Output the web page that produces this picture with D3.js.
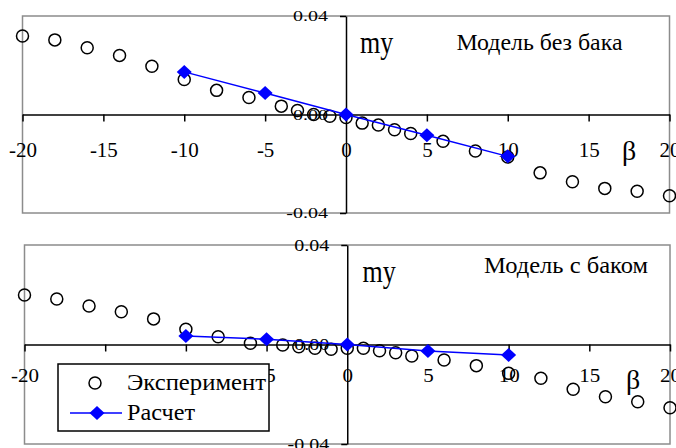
<!DOCTYPE html>
<html>
<head>
<meta charset="utf-8">
<script src="https://cdn.jsdelivr.net/npm/d3@7"></script>
<style>
  body { margin: 0; background: #fff; }
  svg { display: block; }
  text { font-family: "Liberation Serif", "Times New Roman", serif; fill: #000; }
</style>
</head>
<body>
<svg id="chart" width="676" height="448"></svg>
<script>
// angle of slip (deg) and measured / computed my
const betaExp = [-20, -18, -16, -14, -12, -10, -8, -6, -4, -3, -2, -1, 0, 1, 2, 3, 4, 6, 8, 10, 12, 14, 16, 18, 20];
const myExpNoTank = [0.0319, 0.0303, 0.0271, 0.0240, 0.0196, 0.0142, 0.0098, 0.0069, 0.0034, 0.0016, 0.0000, -0.0007, -0.0012,
  -0.0035, -0.0043, -0.0062, -0.0077, -0.0109, -0.0148, -0.0173, -0.0237, -0.0273, -0.0300, -0.0312, -0.0330];
const myExpTank = [0.0199, 0.0183, 0.0155, 0.0132, 0.0103, 0.0061, 0.0031, 0.0005, -0.0002, -0.0009, -0.0015, -0.0019, -0.0015,
  -0.0015, -0.0025, -0.0033, -0.0046, -0.0062, -0.0085, -0.0116, -0.0136, -0.0180, -0.0210, -0.0230, -0.0254];
const betaCalc = [-10, -5, 0, 5, 10];
const myCalcNoTank = [0.0173, 0.0087, 0, -0.0084, -0.0170];
const myCalcTank = [0.0034, 0.0021, 0, -0.0026, -0.0042];
const xTicks = [-20, -15, -10, -5, 0, 5, 10, 15, 20];
const yTicks = [-0.04, 0, 0.04];
const titles = ["Модель без бака", "Модель с баком"];
const legendLabels = ["Эксперимент", "Расчет"];

const svg = d3.select("#chart");
const diamond = "M0,-7 L7.5,0 L0,7 L-7.5,0Z";

function panel(opt) {
  const x = d3.scaleLinear().domain([-20, 20]).range([opt.left, opt.right]);
  const y = d3.scaleLinear().domain([-0.04, 0.04]).range([opt.bottom, opt.top]);
  const g = svg.append("g");

  g.append("rect")
    .attr("x", opt.left).attr("y", opt.top)
    .attr("width", opt.right - opt.left).attr("height", opt.bottom - opt.top)
    .attr("fill", "#fff").attr("stroke", "#8c8c8c").attr("stroke-width", 1.5);

  // x axis through zero
  const xa = g.append("g")
    .attr("transform", `translate(0,${y(0)})`)
    .call(d3.axisBottom(x).tickValues(xTicks).tickSize(7).tickSizeOuter(0).tickFormat(d => String(d)));
  xa.attr("font-family", null).attr("font-size", null);
  xa.selectAll("path, line").attr("stroke", "#000").attr("stroke-width", 1.5);
  xa.selectAll("text")
    .attr("y", null).attr("dy", null)
    .attr("font-size", 21)
    .attr("transform", `translate(0,${opt.xLabelBase}) scale(1,${opt.xLabelScale})`);

  // y axis through zero
  const ya = g.append("g")
    .attr("transform", `translate(${x(0)},0)`)
    .call(d3.axisLeft(y).tickValues(yTicks).tickSize(6).tickPadding(12).tickSizeOuter(0).tickFormat(d => d.toFixed(2)));
  ya.attr("font-family", null).attr("font-size", null);
  ya.selectAll("path, line").attr("stroke", "#000").attr("stroke-width", 1.5);
  ya.selectAll("text")
    .attr("font-size", 20)
    .attr("transform", `scale(1,${opt.yLabelScale})`);

  // experiment
  g.selectAll(".exp")
    .data(betaExp.map((b, i) => [b, opt.exp[i]]))
    .enter()
    .append("circle")
    .attr("class", "exp")
    .attr("cx", d => x(d[0]))
    .attr("cy", d => y(d[1]))
    .attr("r", 6)
    .attr("fill", "none")
    .attr("stroke", "#000")
    .attr("stroke-width", 1.5);

  // calculation
  const calc = betaCalc.map((b, i) => [b, opt.calc[i]]);
  g.append("path")
    .datum(calc)
    .attr("d", d3.line().x(d => x(d[0])).y(d => y(d[1])))
    .attr("fill", "none").attr("stroke", "#0000ff").attr("stroke-width", 1.5);
  g.selectAll(".calc")
    .data(calc)
    .enter()
    .append("path")
    .attr("class", "calc")
    .attr("d", diamond)
    .attr("transform", d => `translate(${x(d[0])},${y(d[1])})`)
    .attr("fill", "#0000ff");

  g.append("text")
    .attr("transform", `translate(${opt.myX},${opt.myY}) scale(1,1.25)`)
    .attr("font-size", 26)
    .text("my");
  g.append("text")
    .attr("x", opt.titleX).attr("y", opt.titleY)
    .attr("font-size", 23)
    .attr("textLength", opt.titleLen).attr("lengthAdjust", "spacingAndGlyphs")
    .text(opt.title);
  g.append("text")
    .attr("x", opt.betaX).attr("y", opt.betaY)
    .attr("text-anchor", "middle")
    .attr("font-size", 28)
    .text("β");
}

panel({
  left: 22.5, right: 669.5, top: 16, bottom: 213,
  exp: myExpNoTank, calc: myCalcNoTank,
  xLabelBase: 42, xLabelScale: 1, yLabelScale: 0.73,
  myX: 360, myY: 53, title: titles[0], titleX: 456.5, titleY: 50, titleLen: 166,
  betaX: 629, betaY: 160
});

panel({
  left: 24.5, right: 670, top: 245, bottom: 444,
  exp: myExpTank, calc: myCalcTank,
  xLabelBase: 37, xLabelScale: 0.85, yLabelScale: 0.85,
  myX: 362.5, myY: 282, title: titles[1], titleX: 484, titleY: 273, titleLen: 164,
  betaX: 633, betaY: 389
});

// legend
const lg = svg.append("g");
lg.append("rect")
  .attr("x", 58).attr("y", 364).attr("width", 211).attr("height", 67)
  .attr("fill", "#fff").attr("stroke", "#000").attr("stroke-width", 1.5);
lg.append("circle")
  .attr("cx", 95).attr("cy", 383).attr("r", 6)
  .attr("fill", "none").attr("stroke", "#000").attr("stroke-width", 1.5);
lg.append("line")
  .attr("x1", 70).attr("x2", 122).attr("y1", 413).attr("y2", 413)
  .attr("stroke", "#0000ff").attr("stroke-width", 1.5);
lg.append("path")
  .attr("d", diamond)
  .attr("transform", "translate(97,413)")
  .attr("fill", "#0000ff");
lg.append("text")
  .attr("x", 127).attr("y", 390).attr("font-size", 23)
  .attr("textLength", 139).attr("lengthAdjust", "spacingAndGlyphs")
  .text(legendLabels[0]);
lg.append("text")
  .attr("x", 127).attr("y", 420).attr("font-size", 23)
  .attr("textLength", 68).attr("lengthAdjust", "spacingAndGlyphs")
  .text(legendLabels[1]);
</script>
</body>
</html>
